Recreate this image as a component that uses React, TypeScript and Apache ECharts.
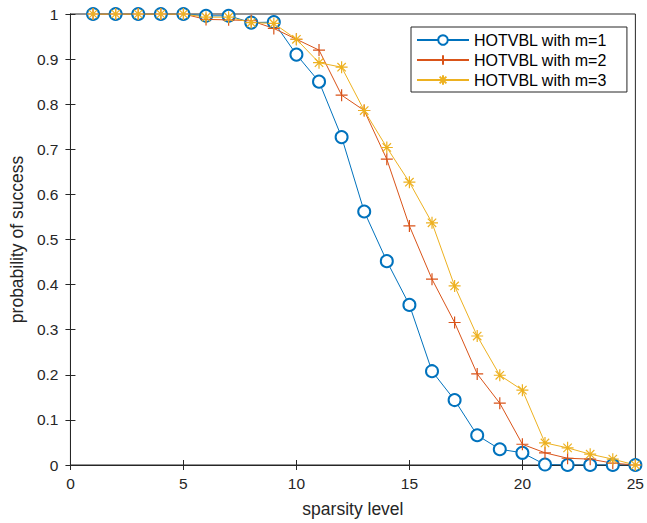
import React, { useEffect, useRef } from "react";
import * as echarts from "echarts";

const sparsity = [1, 2, 3, 4, 5, 6, 7, 8, 9, 10, 11, 12, 13, 14, 15, 16, 17, 18, 19, 20, 21, 22, 23, 24, 25];
const m1 = [1, 1, 1, 1, 1, 0.996, 0.996, 0.981, 0.982, 0.91, 0.85, 0.727, 0.562, 0.452, 0.355, 0.208, 0.144, 0.066, 0.035, 0.027, 0.001, 0, 0, 0, 0];
const m2 = [1, 1, 1, 1, 1, 0.988, 0.987, 0.985, 0.968, 0.944, 0.92, 0.82, 0.786, 0.678, 0.53, 0.412, 0.316, 0.202, 0.137, 0.046, 0.027, 0.015, 0.013, 0.004, 0];
const m3 = [1, 1, 1, 1, 1, 0.993, 0.993, 0.981, 0.979, 0.944, 0.892, 0.882, 0.786, 0.704, 0.627, 0.537, 0.397, 0.286, 0.199, 0.166, 0.049, 0.038, 0.024, 0.013, 0];
const seriesNames = ["HOTVBL with m=1", "HOTVBL with m=2", "HOTVBL with m=3"];
const colors = ["#0072BD", "#D95319", "#EDB120"];

const PLUS = "path://M0,5L10,5M5,0L5,10";
const STAR = "path://M0,5L10,5M5,0L5,10M1.5,1.5L8.5,8.5M1.5,8.5L8.5,1.5";

export default function App() {
  const ref = useRef<HTMLDivElement>(null);
  useEffect(() => {
    if (!ref.current) return;
    const chart = echarts.init(ref.current, undefined, { renderer: "svg" });
    const font = "Liberation Sans, Arial, Helvetica, sans-serif";
    const axisCol = "#262626";
    const mk = (vals: number[]) => sparsity.map((x, i) => [x, vals[i]]);
    chart.setOption({
      animation: false,
      backgroundColor: "#fff",
      textStyle: { fontFamily: font },
      grid: { left: 67, right: 9, top: 14, bottom: 58, show: true, borderColor: axisCol, borderWidth: 1 },
      legend: {
        orient: "vertical",
        left: 411,
        top: 27,
        backgroundColor: "#fff",
        borderColor: axisCol,
        borderWidth: 1,
        padding: [5, 20, 4, 5],
        itemWidth: 52,
        itemHeight: 12,
        itemGap: 4,
        textStyle: { fontFamily: font, fontSize: 16, color: "#000" },
        data: seriesNames,
      },
      xAxis: [
        {
          type: "value", min: 0, max: 25, interval: 5,
          name: "sparsity level", nameLocation: "middle", nameGap: 35,
          nameTextStyle: { fontFamily: font, fontSize: 17.5, color: axisCol },
          axisLine: { lineStyle: { color: axisCol } },
          axisTick: { inside: true, length: 5, lineStyle: { color: axisCol } },
          axisLabel: { fontFamily: font, fontSize: 15.5, color: axisCol, margin: 10 },
          splitLine: { show: false },
        },
        {
          type: "value", min: 0, max: 25, interval: 5, position: "top",
          axisLine: { lineStyle: { color: axisCol } },
          axisTick: { inside: true, length: 5, lineStyle: { color: axisCol } },
          axisLabel: { show: false },
          splitLine: { show: false },
        },
      ],
      yAxis: [
        {
          type: "value", min: 0, max: 1, interval: 0.1,
          name: "probability of success", nameLocation: "middle", nameGap: 40,
          nameTextStyle: { fontFamily: font, fontSize: 17.5, color: axisCol },
          axisLine: { show: true, lineStyle: { color: axisCol } },
          axisTick: { show: true, inside: true, length: 5, lineStyle: { color: axisCol } },
          axisLabel: { fontFamily: font, fontSize: 15.5, color: axisCol, margin: 12 },
          splitLine: { show: false },
        },
        {
          type: "value", min: 0, max: 1, interval: 0.1, position: "right",
          axisLine: { show: true, lineStyle: { color: axisCol } },
          axisTick: { show: true, inside: true, length: 5, lineStyle: { color: axisCol } },
          axisLabel: { show: false },
          splitLine: { show: false },
        },
      ],
      series: [
        {
          name: seriesNames[0], type: "line", data: mk(m1),
          symbol: "emptyCircle", symbolSize: 12, showAllSymbol: true,
          lineStyle: { color: colors[0], width: 1 },
          itemStyle: { color: colors[0], borderColor: colors[0], borderWidth: 1 },
        },
        {
          name: seriesNames[1], type: "line", data: mk(m2),
          symbol: PLUS, symbolSize: 12, showAllSymbol: true,
          lineStyle: { color: colors[1], width: 1 },
          itemStyle: { color: colors[1], borderColor: colors[1], borderWidth: 1.2 },
        },
        {
          name: seriesNames[2], type: "line", data: mk(m3),
          symbol: STAR, symbolSize: 12, showAllSymbol: true,
          lineStyle: { color: colors[2], width: 1 },
          itemStyle: { color: colors[2], borderColor: colors[2], borderWidth: 1.2 },
        },
      ],
    });
    return () => chart.dispose();
  }, []);
  return <div ref={ref} style={{ width: 647, height: 523, position: "absolute", left: 0, top: 0 }} />;
}
